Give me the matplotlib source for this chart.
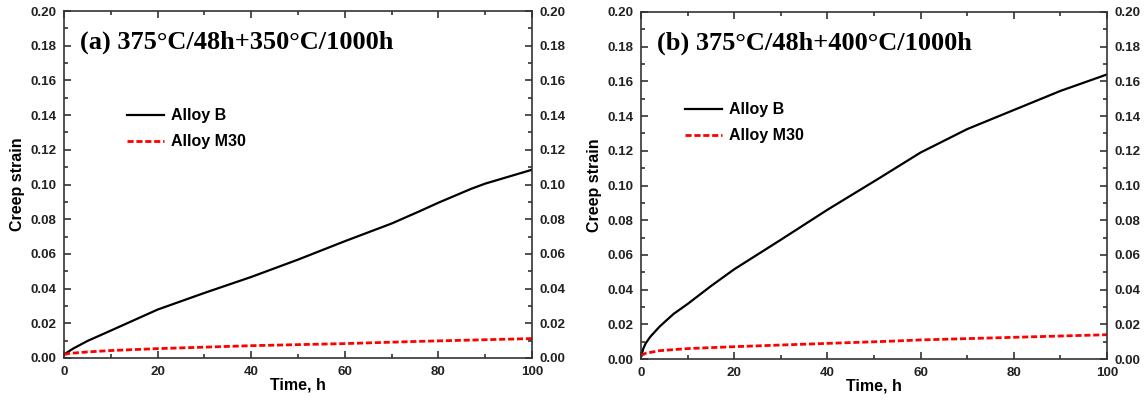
import matplotlib
matplotlib.use('Agg')
import matplotlib.pyplot as plt
from matplotlib.ticker import MultipleLocator

plt.rcParams['font.family'] = ['Liberation Sans', 'DejaVu Sans']
plt.rcParams['font.weight'] = 'bold'

# creep curves read at these times (h)
t_b_a = [0, 1, 2, 5, 10, 20, 30, 40, 50, 60, 70, 76, 80, 87, 90, 100]
alloy_b_a = [0.002, 0.0038, 0.0055, 0.0098, 0.0158, 0.0279, 0.0375, 0.0467, 0.0567,
             0.0673, 0.0775, 0.0846, 0.0895, 0.0975, 0.1005, 0.1085]
t_m_a = [0, 1, 5, 10, 20, 40, 60, 76, 100]
alloy_m30_a = [0.002, 0.0026, 0.0035, 0.0043, 0.0054, 0.0071, 0.0083, 0.0096, 0.0112]

t_b_b = [0, 0.5, 1, 2, 4, 7, 10, 15, 20, 30, 40, 51, 60, 70, 80, 90, 100]
alloy_b_b = [0.001, 0.006, 0.009, 0.0128, 0.0187, 0.026, 0.0317, 0.042, 0.0517, 0.0687,
             0.086, 0.104, 0.119, 0.1325, 0.1435, 0.1545, 0.164]
t_m_b = [0, 1, 4, 10, 20, 40, 53, 60, 80, 100]
alloy_m30_b = [0.002, 0.0033, 0.0048, 0.0060, 0.0071, 0.0090, 0.0102, 0.0110, 0.0125, 0.0140]

panel_titles = ['(a) 375°C/48h+350°C/1000h', '(b) 375°C/48h+400°C/1000h']

fig = plt.figure(figsize=(11.45, 4), dpi=100)
ax1 = fig.add_axes([0.0559, 0.105, 0.4087, 0.8675])
ax2 = fig.add_axes([0.5598, 0.1025, 0.4070, 0.8675])

panels = [
    (ax1, t_b_a, alloy_b_a, t_m_a, alloy_m30_a, panel_titles[0], (0.135, 0.72)),
    (ax2, t_b_b, alloy_b_b, t_m_b, alloy_m30_b, panel_titles[1], (0.094, 0.74)),
]

for ax, tb, yb, tm, ym, title, leg_pos in panels:
    ax.plot(tb, yb, color='black', lw=1.6, label='Alloy B')
    ax.plot(tm, ym, color='red', lw=2.0, ls=(0, (2.2, 1.0)), label='Alloy M30')
    ax.set_xlim(0, 100)
    ax.set_ylim(0, 0.20)
    ax.xaxis.set_major_locator(MultipleLocator(20))
    ax.xaxis.set_minor_locator(MultipleLocator(10))
    ax.yaxis.set_major_locator(MultipleLocator(0.02))
    ax.yaxis.set_minor_locator(MultipleLocator(0.01))
    ax.yaxis.set_major_formatter(lambda v, p: f'{v:.2f}')
    ax.tick_params(which='both', direction='in', top=True, right=True,
                   labelright=True, labelsize=9.6, width=1.1, colors='#222222')
    ax.tick_params(which='major', length=5, pad=5.5)
    ax.tick_params(which='minor', length=3)
    for s in ax.spines.values():
        s.set_linewidth(1.2)
        s.set_color('#333333')
    ax.set_xlabel('Time, h', fontsize=11.5, fontweight='bold')
    ax.set_ylabel('Creep strain', fontsize=11.5, fontweight='bold')
    ax.xaxis.set_label_coords(0.5, -0.055)
    ax.yaxis.set_label_coords(-0.083, 0.5)
    ax.text(0.034, 0.91, title, transform=ax.transAxes, fontsize=19,
            fontweight='bold', family=['Liberation Serif', 'DejaVu Serif'],
            va='center', ha='left')
    leg = ax.legend(loc='upper left', bbox_to_anchor=leg_pos, frameon=False,
                    fontsize=11.5, handlelength=2.3, handletextpad=0.45,
                    labelspacing=0.7, borderpad=0, borderaxespad=0)

fig.savefig('out.png', dpi=100)
